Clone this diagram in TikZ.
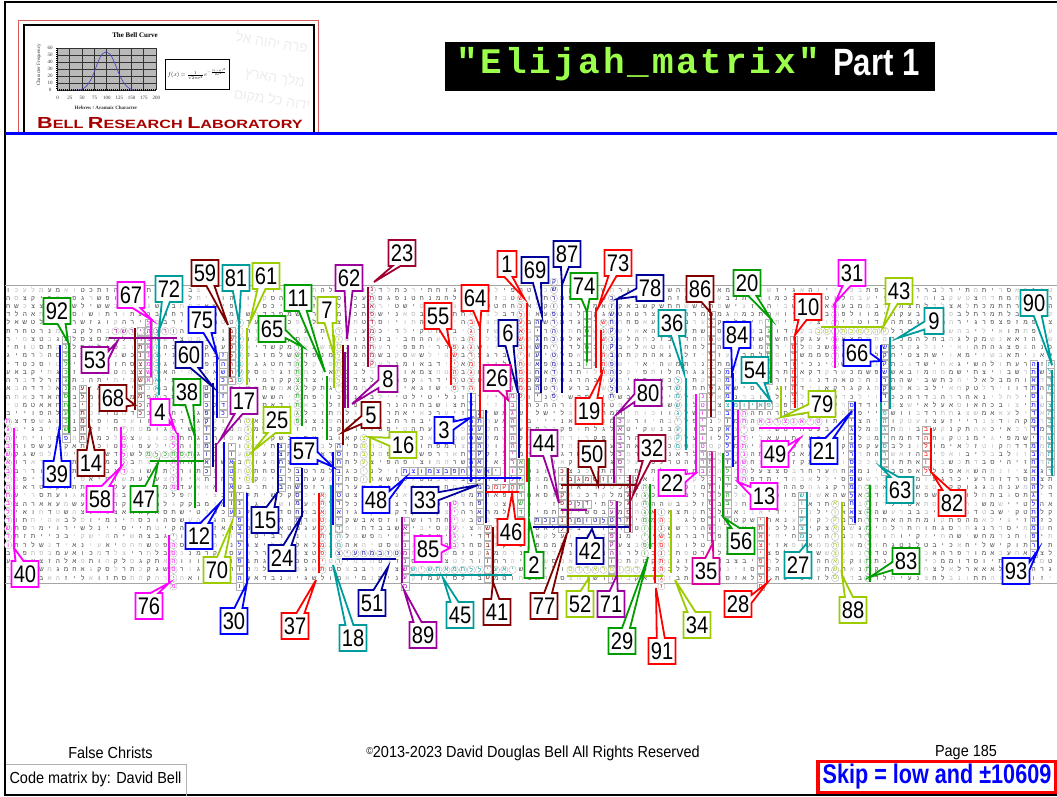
\documentclass[tikz,border=0pt]{standalone}
\usepackage{fontspec}
\usetikzlibrary{shapes.callouts}
\setmainfont{Liberation Sans}
\TeXXeTstate=1
\newfontfamily\heb[Script=Hebrew]{Liberation Sans}
\newfontfamily\cnum[FakeStretch=0.84]{Liberation Sans}
\newfontfamily\cfoot[FakeStretch=0.905]{Liberation Sans}
\newfontfamily\cbold[FakeStretch=0.82]{Liberation Sans Bold}
\newfontfamily\cskip[FakeStretch=0.80]{Liberation Sans Bold}
\newfontfamily\lab[FakeStretch=1.35]{Liberation Sans Bold}
\newfontfamily\lcd[LetterSpace=8]{Liberation Mono Bold}
\newfontfamily\ser{Liberation Serif}
\definecolor{cg}{HTML}{009C00}
\definecolor{cb}{HTML}{0000FF}
\definecolor{cn}{HTML}{00009C}
\definecolor{cm}{HTML}{FF00FF}
\definecolor{cr}{HTML}{FF0000}
\definecolor{cd}{HTML}{800000}
\definecolor{ct}{HTML}{009C9C}
\definecolor{cy}{HTML}{9CCC00}
\definecolor{cp}{HTML}{9C009C}
\definecolor{cc}{HTML}{A00030}
\definecolor{cq}{HTML}{DC009C}
\definecolor{lime}{HTML}{9CFF4C}
\newcount\rseed \rseed=4242
\newcount\rA \newcount\rB \newcount\rI \newcount\colc
\newcommand\nxt{\rA=\rseed \multiply\rA by 75 \advance\rA by 74
  \rB=\rA \divide\rB by 65537 \multiply\rB by 65537 \advance\rA by -\rB
  \global\rseed=\rA
  \rI=\rseed \divide\rI by 7 \rB=\rI \divide\rB by 33 \multiply\rB by 33 \advance\rI by -\rB}
\newcommand\hlet{\ifcase\rI י\or ה\or ו\or א\or ל\or ר\or מ\or ת\or ב\or ש\or נ\or ע\or כ\or ד\or ח\or ק\or פ\or צ\or ס\or ג\or ט\or ז\or י\or ה\or ו\or א\or ל\or ת\or מ\or ב\or ר\or ש\or י\fi}
\newcommand\hcell{\nxt\hbox to 8.27pt{\hss\ifnum\rseed<19000 \textcolor{gray!55}{\hlet}\else\textcolor{black!72}{\hlet}\fi\hss}}
\newcommand\mkrow{\colc=0 \loop\ifnum\colc<127 \hcell\advance\colc by 1 \repeat}
\newcommand\cell[4]{\nxt\node[#2,draw=gray!60,fill=white,line width=.35pt,inner sep=0pt,minimum width=7.4pt,minimum height=7.4pt,text=#1,font=\heb\fontsize{6.5}{6.5}\selectfont]
  (e#3x#4) at ({8.1+8.27*#3},{290+8.23*#4}) {\hbox to 6pt{\hss\hlet\hss}};}
\newcommand\ecol[5]{\pgfmathtruncatemacro\ci{round((#3-8.1)/8.27)}\pgfmathtruncatemacro\ra{round((#4-290)/8.23)}\pgfmathtruncatemacro\rb{round((#5-290)/8.23)}%
  \foreach \r in {\ra,...,\rb}{\cell{#1}{#2}{\ci}{\r}}}
\newcommand\erow[5]{\pgfmathtruncatemacro\ri{round((#3-290)/8.23)}\pgfmathtruncatemacro\ca{round((#4-8.1)/8.27)}\pgfmathtruncatemacro\cb{round((#5-8.1)/8.27)}%
  \foreach \q in {\ca,...,\cb}{\cell{#1}{#2}{\q}{\ri}}}
\newcommand\C[4]{\ecol{#1}{circle}{#2}{#3}{#4}}
\newcommand\B[4]{\ecol{#1}{rectangle}{#2}{#3}{#4}}
\newcommand\CR[4]{\erow{#1}{circle}{#2}{#3}{#4}}
\newcommand\BR[4]{\erow{#1}{rectangle}{#2}{#3}{#4}}
\newcommand\Lv[4]{\draw[draw=#1,line width=1.9pt] (#2,#3) -- (#2,#4);}
\newcommand\Lh[4]{\draw[draw=#1,line width=1.9pt] (#3,#2) -- (#4,#2);}
\tikzset{co/.style={rectangle callout,draw=#1,line width=1.8pt,fill=white,text=black,inner xsep=1.5pt,inner ysep=0pt,minimum height=26pt,
  callout pointer width=8pt,font=\cnum\fontsize{24}{24}\selectfont},
  foot/.style={inner sep=0pt,text=black,font=\cfoot\fontsize{16}{16}\selectfont},
  tick/.style={inner sep=0pt,text=black!80,font=\ser\fontsize{5}{5}\selectfont}}
\newcommand\co[6]{\ifnum#1<10 \def\mw{19pt}\else\def\mw{27pt}\fi
  \node[co=#2,minimum width=\mw,callout absolute pointer={(#5,#6)}] (c#1) at (#3,#4) {#1};}
\begin{document}
\begin{tikzpicture}[x=1pt,y=-1pt]
\useasboundingbox (0,0) rectangle (1057,796);
\fill[white] (0,0) rectangle (1057,796);
% logo
\draw[red!60!gray!80,line width=.8pt] (18.5,20) rectangle (318,133);
\begin{scope}
\clip (24,25) rectangle (314,133);
\foreach \i/\x/\y/\t in {2/272/42/פרה יהוה אל,3/275/78/מלך הארץ,4/272/100/ידוה כל מקום}{
  \node[rotate=-9,text=gray!14,inner sep=0pt,font=\heb\fontsize{14}{14}\selectfont] (bg\i) at (\x,\y) {\beginR\t\endR};}
\end{scope}
\draw[black,line width=1.2pt] (24,133) -- (24,25) -- (314,25) -- (314,133);
\node[inner sep=0pt,font=\ser\bfseries\fontsize{7}{7}\selectfont] (lt) at (135,35.5) {The Bell Curve};
\fill[gray!55] (57,48) rectangle (156,90);
\foreach \i in {0,...,8}{\draw[black!80,line width=.4pt] ({57+12.35*\i},48) -- ({57+12.35*\i},90);}
\foreach \i in {0,...,6}{\draw[black!80,line width=.4pt] (57,{48+7*\i}) -- (156,{48+7*\i});
  \pgfmathtruncatemacro\v{60-10*\i}\node[tick] (ty\i) at (50,{48+7*\i}) {\v};}
\draw[black,line width=1.2pt,dash pattern=on 1pt off 1pt] (57,48) -- (57,90) -- (156,90);
\draw[cn!70,line width=.7pt] (78,90) .. controls (95,90) and (96,52) .. (106,52) .. controls (116,52) and (118,90) .. (135,90);
\foreach \i/\v in {0/0,1/25,2/50,3/75,4/100,5/125,6/150,7/175,8/200}{\node[tick] (tx\i) at ({57.5+12.35*\i},98) {\v};}
\node[tick,rotate=90] (ay) at (39,65) {Character Frequency};
\node[tick,font=\ser\bfseries\fontsize{5}{5}\selectfont] (ax) at (106,108) {Hebrew / Aramaic Character};
\node[draw=black,line width=.5pt,fill=white,minimum width=64pt,minimum height=30pt,inner sep=0pt] (fm) at (197,74) {\scalebox{.6}{$f(x)=\frac{1}{\sqrt{2\pi\sigma^2}}\,e^{-\frac{(x-\mu)^2}{2\sigma^2}}$}};
\node[inner sep=0pt,text=cr!65!black,font=\lab] (lb) at (170,123.5) {\fontsize{16}{16}\selectfont B\fontsize{12}{12}\selectfont ELL \fontsize{16}{16}\selectfont R\fontsize{12}{12}\selectfont ESEARCH \fontsize{16}{16}\selectfont L\fontsize{12}{12}\selectfont ABORATORY};
% frame
\draw[black,line width=2pt] (1057,2) -- (5,2) -- (5,795) -- (1057,795);
\draw[cb,line width=3pt] (5,133) -- (1057,133);
% title
\node[fill=black,minimum width=490pt,minimum height=49pt,inner sep=0pt] (ttl) at (690,66.5) {};
\node[inner sep=0pt,text=lime,font=\lcd\fontsize{36}{36}\selectfont,anchor=west] (t1) at (456,64) {"Elijah\_matrix"};
\node[inner sep=0pt,text=white,font=\cbold\fontsize{38}{38}\selectfont,anchor=west] (t2) at (833,63) {Part 1};
% grid
\draw[gray!70,line width=.7pt] (5,285) -- (1057,285) (5,583) -- (1057,583);
\begin{scope}
\clip (6,284) rectangle (1057,584);
\foreach \j in {0,...,35}{\node[inner sep=0pt,anchor=west,font=\heb\fontsize{6.5}{6.5}\selectfont] (row\j) at (3.97,{290+8.23*\j}) {\mkrow};}
\end{scope}
% ELS letters
\B{cg}{66}{343}{432}\B{cb}{66}{440}{440}
\B{cd}{85}{387}{440}\C{cm}{9}{420}{545}\C{cm}{125}{427}{468}\C{cm}{173}{433}{488}
\CR{cg}{455}{152}{190}\C{cm}{173}{535}{583}\B{cn}{209}{385}{470}\B{cb}{221}{355}{417}
\B{cb}{229}{443}{510}\B{cb}{243}{495}{583}\C{cy}{248}{420}{480}
\B{cd}{233}{328}{377}\C{ct}{241}{325}{377}\B{cm}{146}{320}{378}\B{cd}{139}{330}{410}\C{ct}{154}{330}{395}
\CR{cp}{331}{112}{175}\C{cg}{297}{345}{425}\C{cy}{338}{330}{385}\B{cb}{338}{450}{525}\C{ct}{338}{530}{558}
\C{cc}{372}{287}{365}\C{cr}{454}{347}{385}\C{cr}{474}{325}{415}\B{cb}{474}{393}{482}\B{cn}{481}{410}{520}
\C{cr}{523}{300}{395}\B{cq}{510}{395}{480}\C{cy}{365}{435}{480}\B{cn}{296}{470}{517}\B{cn}{283}{443}{490}
\C{cr}{323}{493}{573}\B{cp}{407}{517}{583}\C{cm}{455}{500}{548}\B{cd}{488}{527}{582}
\BR{cb}{472}{405}{500}\BR{cr}{487}{495}{520}\B{cg}{522}{460}{517}\CR{cn}{553}{342}{395}\CR{ct}{569}{410}{512}
\B{cn}{536}{320}{393}\C{cn}{557}{285}{395}\B{cg}{591}{312}{362}\C{cr}{604}{325}{375}\C{cn}{611}{299}{393}
\B{cp}{617}{417}{483}\B{cd}{714}{312}{417}\C{ct}{681}{378}{450}\B{cm}{700}{394}{470}\B{cq}{707}{452}{540}
\B{cb}{728}{373}{465}\C{cm}{741}{410}{480}\B{cg}{766}{320}{380}\BR{ct}{405}{725}{772}\CR{cm}{421}{759}{818}
\B{cr}{790}{337}{405}\C{cm}{831}{303}{368}\CR{cy}{332}{822}{885}\B{cb}{886}{345}{402}\B{ct}{886}{402}{467}
\B{cb}{851}{405}{523}\B{cr}{926}{428}{473}\B{ct}{803}{493}{540}\C{cy}{837}{502}{575}\C{cg}{865}{485}{580}
\B{cb}{1033}{362}{550}\B{ct}{1047}{365}{475}\B{cg}{728}{468}{517}\B{cr}{762}{517}{583}\C{cr}{660}{510}{583}
\C{cg}{645}{485}{550}\B{cp}{611}{500}{575}\CR{cy}{570}{570}{640}\BR{cn}{520}{535}{625}\BR{cp}{503}{563}{587}
\BR{cd}{479}{560}{635}\B{cc}{625}{478}{530}\B{cd}{563}{470}{530}
% ELS lines
\Lv{cg}{69}{343}{433}\Lv{cb}{60}{345}{430}\Lv{cd}{89}{387}{428}\Lv{cm}{151}{320}{377}\Lv{ct}{159}{330}{395}
\Lh{cp}{338}{109}{177}\Lv{cd}{135}{328}{410}\Lv{cd}{230}{328}{377}\Lv{ct}{239}{325}{377}\Lv{cy}{247}{328}{385}
\Lv{cb}{217}{355}{418}\Lv{cn}{213}{383}{467}\Lv{cg}{195}{437}{508}\Lh{cg}{461}{150}{204}\Lv{cm}{178}{433}{490}
\Lv{cm}{121}{427}{467}\Lv{cm}{14}{428}{548}\Lv{cp}{216}{443}{492}\Lv{cb}{224}{442}{507}\Lv{cy}{234}{461}{516}
\Lv{cb}{247}{493}{583}\Lv{cm}{169}{535}{583}\Lv{cy}{253}{418}{483}\Lv{cg}{302}{347}{426}\Lv{cg}{327}{376}{440}
\Lv{cy}{334}{335}{388}\Lv{cp}{345}{352}{408}\Lv{cp}{348}{345}{408}\Lv{cd}{343}{345}{445}\Lv{cc}{368}{287}{367}
\Lv{cr}{451}{347}{385}\Lv{cr}{480}{325}{418}\Lv{cb}{471}{393}{482}\Lv{cn}{486}{410}{523}\Lv{cn}{519}{393}{458}
\Lv{cr}{527}{303}{482}\Lv{cq}{505}{395}{482}\Lh{cb}{478}{405}{521}\Lh{cr}{492}{486}{519}\Lv{cg}{529}{458}{517}
\Lv{cb}{333}{452}{525}\Lv{ct}{331}{485}{558}\Lv{cr}{319}{493}{573}\Lv{cn}{302}{468}{517}\Lv{cn}{278}{443}{493}
\Lv{cy}{370}{437}{483}\Lh{cn}{559}{342}{396}\Lv{cp}{402}{517}{583}\Lv{cm}{450}{502}{548}\Lv{cd}{493}{527}{582}
\Lh{ct}{575}{410}{512}\Lh{cp}{510}{561}{587}\Lv{cd}{568}{468}{533}\Lh{cd}{485}{561}{637}\Lv{cc}{630}{475}{532}
\Lh{cn}{527}{533}{629}\Lv{cp}{617}{501}{587}\Lh{cy}{576}{567}{663}\Lv{cr}{655}{509}{583}\Lv{cy}{671}{510}{573}
\Lv{cg}{650}{484}{549}\Lv{cq}{712}{452}{543}\Lv{cg}{723}{453}{517}\Lv{cr}{767}{517}{583}\Lv{cm}{696}{394}{473}
\Lv{cb}{733}{373}{467}\Lv{cm}{738}{410}{482}\Lv{ct}{686}{378}{450}\Lv{cd}{711}{312}{417}\Lv{cg}{771}{319}{383}
\Lh{ct}{401}{725}{772}\Lv{cy}{781}{386}{417}\Lh{cm}{428}{759}{820}\Lv{cr}{795}{337}{408}\Lv{cm}{835}{303}{368}
\Lh{cy}{327}{821}{883}\Lv{cb}{881}{345}{402}\Lv{ct}{881}{402}{467}\Lv{ct}{890}{337}{409}\Lv{cb}{855}{402}{523}
\Lv{cr}{931}{428}{473}\Lv{ct}{807}{492}{543}\Lv{cy}{842}{502}{575}\Lv{cg}{870}{485}{582}\Lv{cb}{1038}{362}{550}
\Lv{ct}{1052}{370}{476}\Lv{cn}{541}{320}{393}\Lv{cn}{562}{285}{393}\Lv{cg}{587}{312}{362}\Lv{cr}{596}{308}{368}
\Lv{cr}{601}{330}{373}\Lv{cn}{617}{299}{393}\Lv{cp}{614}{417}{483}
% callouts
\co{1}{cr}{507}{264}{524}{298}\co{69}{cn}{535}{270}{542}{316}\co{87}{cn}{567}{254}{562}{285}\co{74}{cg}{584}{286}{587}{312}
\co{73}{cr}{618}{263}{598}{308}\co{78}{cn}{650}{288}{617}{299}\co{36}{ct}{672}{323}{684}{373}\co{86}{cd}{700}{289}{710}{312}
\co{20}{cg}{747}{283}{771}{319}\co{84}{cb}{737}{335}{732}{373}\co{54}{ct}{755}{370}{770}{400}\co{10}{cr}{808}{307}{795}{335}
\co{31}{cm}{852}{273}{835}{303}\co{43}{cy}{899}{291}{883}{327}\co{9}{ct}{934}{321}{898}{338}\co{90}{ct}{1034}{303}{1052}{365}
\co{66}{cb}{857}{353}{881}{361}\co{79}{cy}{822}{404}{782}{417}\co{21}{cb}{824}{451}{852}{411}\co{49}{cm}{775}{454}{800}{438}
\co{13}{cm}{764}{496}{738}{482}\co{56}{cg}{741}{541}{724}{518}\co{27}{ct}{798}{565}{807}{543}\co{28}{cr}{738}{604}{767}{583}
\co{63}{ct}{900}{490}{881}{467}\co{82}{cr}{952}{503}{932}{473}\co{83}{cg}{906}{561}{870}{577}\co{88}{cy}{853}{610}{842}{575}
\co{93}{cb}{1016}{571}{1038}{550}\co{35}{cq}{706}{571}{713}{543}\co{34}{cy}{697}{625}{675}{580}\co{91}{cr}{662}{651}{656}{588}
\co{29}{cg}{622}{641}{648}{557}\co{71}{cp}{611}{604}{617}{575}\co{52}{cy}{580}{604}{589}{578}\co{77}{cd}{544}{606}{567}{533}
\co{42}{cn}{590}{551}{592}{529}\co{44}{cp}{544}{443}{559}{503}\co{50}{cd}{592}{454}{598}{485}\co{32}{cc}{652}{448}{633}{495}
\co{22}{cm}{672}{483}{696}{473}\co{19}{cr}{589}{411}{602}{373}\co{80}{cp}{648}{393}{617}{414}
\co{92}{cg}{57}{311}{68}{342}\co{67}{cm}{131}{295}{152}{320}\co{72}{ct}{169}{289}{159}{330}\co{59}{cd}{205}{273}{228}{325}
\co{81}{ct}{236}{278}{239}{323}\co{61}{cy}{266}{276}{250}{322}\co{65}{cg}{272}{329}{303}{347}\co{11}{cg}{298}{298}{325}{372}
\co{7}{cy}{327}{310}{334}{355}\co{62}{cp}{349}{278}{347}{339}\co{23}{cc}{402}{253}{374}{282}\co{55}{cr}{438}{316}{450}{347}
\co{64}{cr}{475}{298}{480}{327}\co{6}{cn}{508}{333}{518}{393}\co{26}{cq}{497}{378}{508}{400}\co{3}{cb}{444}{430}{470}{418}
\co{8}{cp}{388}{379}{352}{404}\co{5}{cd}{371}{415}{343}{432}\co{16}{cy}{403}{445}{369}{437}\co{57}{cb}{304}{451}{333}{467}
\co{48}{cb}{376}{500}{405}{478}\co{33}{cn}{425}{500}{478}{485}\co{85}{cm}{428}{549}{450}{548}\co{46}{cr}{511}{532}{512}{494}
\co{2}{cg}{534}{565}{529}{520}\co{45}{ct}{460}{615}{443}{578}\co{41}{cd}{497}{612}{493}{582}\co{89}{cp}{423}{635}{404}{590}
\co{51}{cn}{372}{603}{388}{567}\co{18}{ct}{353}{638}{333}{565}\co{37}{cr}{295}{626}{316}{580}\co{24}{cn}{282}{558}{301}{517}
\co{15}{cn}{265}{520}{277}{493}\co{25}{cy}{277}{420}{253}{451}\co{17}{cp}{244}{401}{220}{440}\co{38}{cg}{187}{392}{195}{437}
\co{4}{cm}{160}{412}{175}{430}\co{60}{cn}{189}{355}{213}{387}\co{75}{cb}{202}{320}{217}{355}\co{53}{cp}{95}{360}{117}{342}
\co{68}{cd}{113}{398}{135}{405}\co{39}{cb}{57}{474}{59}{430}\co{14}{cd}{91}{463}{90}{428}\co{58}{cm}{100}{499}{121}{467}
\co{47}{cg}{144}{499}{158}{463}\co{12}{cb}{199}{536}{220}{503}\co{70}{cy}{217}{570}{232}{522}\co{30}{cb}{234}{621}{247}{583}
\co{76}{cm}{149}{606}{169}{583}\co{40}{cm}{25}{574}{14}{548}
% footer
\node[foot] (f1) at (110.5,753) {False Christs};
\node[foot] (f2) at (533,753) {\raisebox{3pt}{\fontsize{10}{10}\selectfont ©}2013-2023 David Douglas Bell All Rights Reserved};
\node[foot] (f3) at (966,753) {Page 185};
\node[draw=gray!60,line width=.8pt,fill=white,minimum width=181pt,minimum height=31pt,foot,inner sep=0pt] (f4) at (95.5,779.5) {Code matrix by: David Bell};
\draw[black,line width=2pt] (5,764) -- (5,795) -- (186,795);
\node[draw=cr,line width=3.5pt,fill=white,text=cb,minimum width=238pt,minimum height=31pt,inner sep=0pt,font=\cskip\fontsize{27}{27}\selectfont] (f5) at (937,777) {Skip = low and ±10609};
\end{tikzpicture}
\end{document}
